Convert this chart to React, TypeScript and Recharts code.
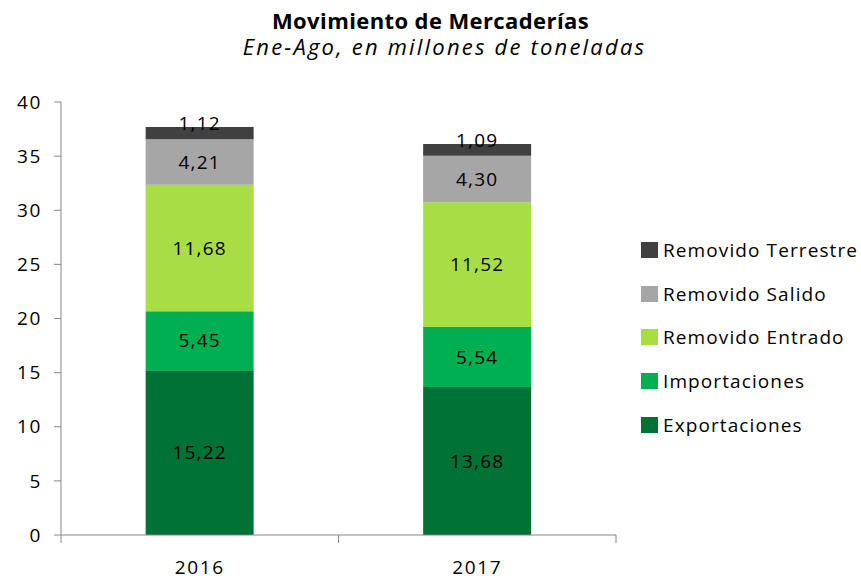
import React from 'react';
import { BarChart, Bar, XAxis, YAxis, LabelList, Legend } from 'recharts';

const years = ['2016', '2017'];
const exportaciones = [15.22, 13.68];
const importaciones = [5.45, 5.54];
const removidoEntrado = [11.68, 11.52];
const removidoSalido = [4.21, 4.3];
const removidoTerrestre = [1.12, 1.09];
const yTicks = [0, 5, 10, 15, 20, 25, 30, 35, 40];

const SERIES = [
  { key: 'exportaciones', name: 'Exportaciones', color: '#007236', values: exportaciones },
  { key: 'importaciones', name: 'Importaciones', color: '#00B050', values: importaciones },
  { key: 'entrado', name: 'Removido Entrado', color: '#A8DE44', values: removidoEntrado },
  { key: 'salido', name: 'Removido Salido', color: '#A6A6A6', values: removidoSalido },
  { key: 'terrestre', name: 'Removido Terrestre', color: '#404040', values: removidoTerrestre },
];

const data = years.map((year, i) => {
  const row: Record<string, string | number> = { year };
  SERIES.forEach((s) => { row[s.key] = s.values[i]; });
  return row;
});

const FONT = '"Open Sans", sans-serif';
const AXIS = '#868686';
const fmt = (v: any) => Number(v).toFixed(2).replace('.', ',');

// category tick: marks sit on the band edges, label in the middle
const XTick = (props: any) => {
  const { x, y, payload } = props;
  const off = payload.offset || 0;
  return (
    <g>
      <line x1={x - off} x2={x - off} y1={y} y2={y + 8} stroke={AXIS} />
      <line x1={x + off} x2={x + off} y1={y} y2={y + 8} stroke={AXIS} />
      <text x={x} y={y + 39} textAnchor="middle" fontSize={19} fill="#000" fontFamily={FONT} style={{ letterSpacing: 1.6 }}>
        {payload.value}
      </text>
    </g>
  );
};

const LegendBox = () => (
  <div style={{ fontFamily: FONT, fontSize: 19, color: '#000', letterSpacing: 1.1 }}>
    {[...SERIES].reverse().map((s) => (
      <div key={s.key} style={{ display: 'flex', alignItems: 'center', height: 43.75, whiteSpace: 'nowrap' }}>
        <span style={{ width: 17, height: 16, background: s.color, marginRight: 5, display: 'inline-block', flex: 'none' }} />
        <span>{s.name}</span>
      </div>
    ))}
  </div>
);

export default function App() {
  return (
    <div style={{ position: 'absolute', left: 0, top: 0, width: 861, height: 580, background: '#fff' }}>
      <div style={{ position: 'absolute', left: 0, width: 861, top: 9, lineHeight: '22px', textAlign: 'center', fontFamily: FONT, fontWeight: 'bold', fontSize: 22, letterSpacing: 0.4 }}>
        Movimiento de Mercaderías
      </div>
      <div style={{ position: 'absolute', left: 14, width: 861, top: 35, lineHeight: '22px', textAlign: 'center', fontFamily: FONT, fontStyle: 'italic', fontSize: 22, letterSpacing: 2.2 }}>
        Ene-Ago, en millones de toneladas
      </div>
      <BarChart
        width={861}
        height={580}
        data={data}
        margin={{ top: 102, right: 245, bottom: 15, left: 0 }}
        barCategoryGap="30.5%"
      >
        <XAxis
          dataKey="year"
          height={30}
          axisLine={{ stroke: AXIS }}
          tickLine={false}
          tickSize={0}
          tickMargin={0}
          tick={<XTick />}
        />
        <YAxis
          width={61}
          domain={[0, 40]}
          ticks={yTicks}
          interval={0}
          axisLine={{ stroke: AXIS }}
          tickLine={{ stroke: AXIS }}
          tickSize={7}
          tickMargin={12}
          tick={{ fontSize: 19, fill: '#000', fontFamily: FONT, style: { letterSpacing: 1.6 } }}
        />
        <Legend
          layout="vertical"
          align="center"
          verticalAlign="middle"
          content={<LegendBox />}
          wrapperStyle={{ left: 641, top: 228, width: 220 }}
        />
        {SERIES.map((s) => (
          <Bar key={s.key} dataKey={s.key} name={s.name} stackId="a" fill={s.color} isAnimationActive={false}>
            <LabelList
              dataKey={s.key}
              position={s.key === 'terrestre' ? 'top' : 'center'}
              offset={s.key === 'terrestre' ? -3 : 5}
              formatter={fmt}
              fill="#000"
              fontSize={19}
              fontFamily={FONT}
              style={{ letterSpacing: 1.2 }}
            />
          </Bar>
        ))}
      </BarChart>
    </div>
  );
}
